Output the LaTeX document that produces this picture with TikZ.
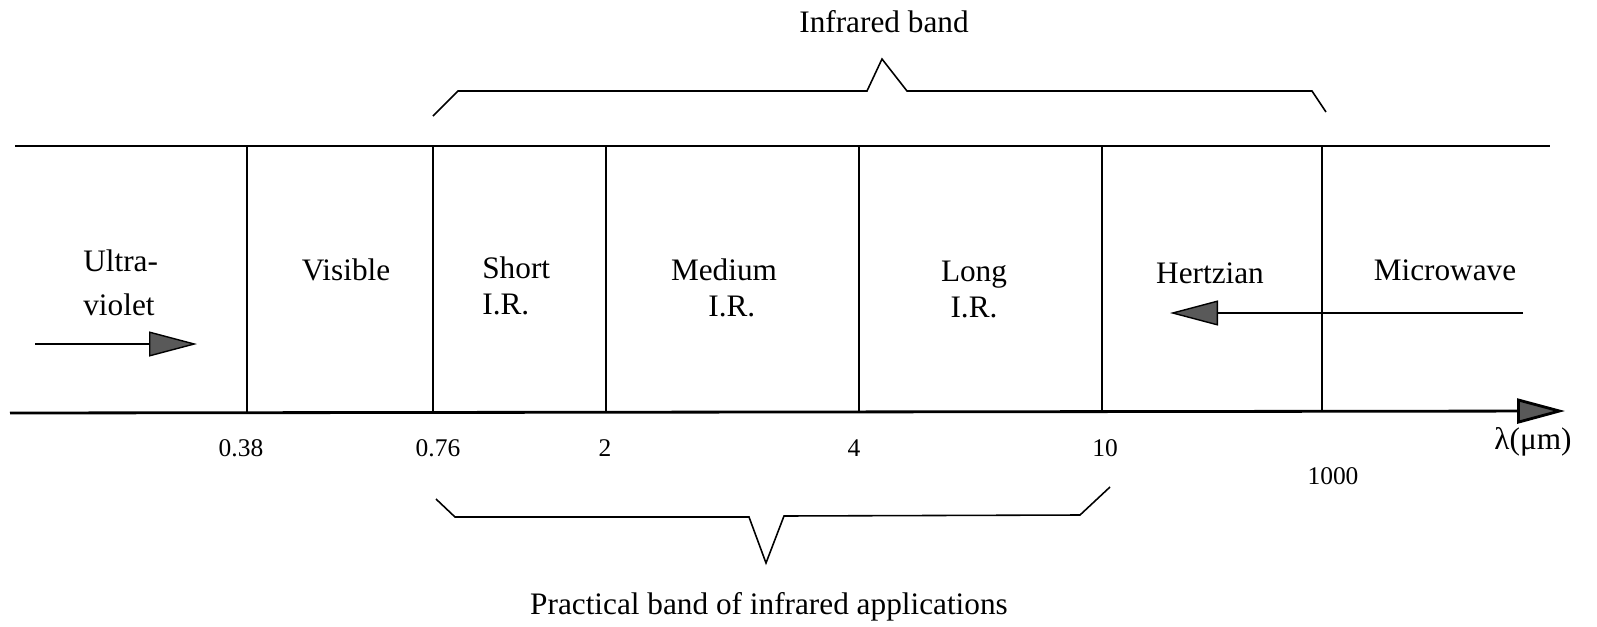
\documentclass[tikz,border=0pt]{standalone}
\usepackage{fontspec}
\setmainfont{Liberation Serif}
\usetikzlibrary{arrows.meta}

\begin{document}
\begin{tikzpicture} [
    x=0.02cm, y=-0.02cm,
    band/.style={line width=1.6pt},
    tip/.style={-{Triangle[length=0.96cm, width=0.5cm, fill=black!65]}},
    wave/.style={line width=0.8pt, tip},
    brace/.style={line width=0.9pt},
    label/.style={font=\fontsize{17.8}{20}\selectfont, inner sep=0pt, anchor=base},
    tick/.style={font=\fontsize{14.5}{17}\selectfont}
]
    \useasboundingbox (0,0) rectangle (1597,626);

    % 波段边界
    \coordinate (tl) at (15,146);
    \coordinate (tr) at (1550,146);
    \coordinate (bl) at (10,413);
    \coordinate (br) at (1565,411);
    \draw[band] (tl) -- (tr);
    \draw[band, tip] (bl) -- (br);

    % 分隔线
    \foreach \x in {247, 433, 606, 859, 1102, 1322} {
        \draw[band] (\x,146) -- (\x,412);
    }

    % 波段名称 (基线为最后一行)
    \node[label, anchor=base west, align=left] (uv) at (83,315) {Ultra-\\[5pt]violet};
    \node[label] (vis) at (346,280) {Visible};
    \node[label, anchor=base west, align=left] (sir) at (482,314) {Short\\I.R.};
    \node[label, align=center] (mir) at (724,316) {Medium\\\hspace*{0.5em}I.R.};
    \node[label, align=center] (lir) at (974,317) {Long\\I.R.};
    \node[label] (hz) at (1210,283) {Hertzian};
    \node[label] (mw) at (1445,280) {Microwave};

    % 方向箭头
    \coordinate (uvs) at (35,344);
    \coordinate (uve) at (197,344);
    \coordinate (mws) at (1523,313);
    \coordinate (mwe) at (1170,313);
    \draw[wave] (uvs) -- (uve);
    \draw[wave] (mws) -- (mwe);

    % 刻度
    \node[tick] (t1) at (241,448) {0.38};
    \node[tick] (t2) at (438,448) {0.76};
    \node[tick] (t3) at (605,448) {2};
    \node[tick] (t4) at (854,448) {4};
    \node[tick] (t5) at (1105,448) {10};
    \node[tick] (t6) at (1333,476) {1000};
    \node[label] (unit) at (1533,449) {λ(μm)};

    % 红外波段
    \draw[brace] (433,116) -- (458,91) -- (867,91) -- (882,59) -- (907,91)
        -- (1312,91) -- (1326,112);
    \node[label] (ir) at (884,32) {Infrared band};

    % 实用波段
    \draw[brace] (436,499) -- (455,517) -- (749,517) -- (766,563) -- (784,516)
        -- (1080,515) -- (1110,487);
    \node[label] (app) at (769,614) {Practical band of infrared applications};
\end{tikzpicture}
\end{document}
